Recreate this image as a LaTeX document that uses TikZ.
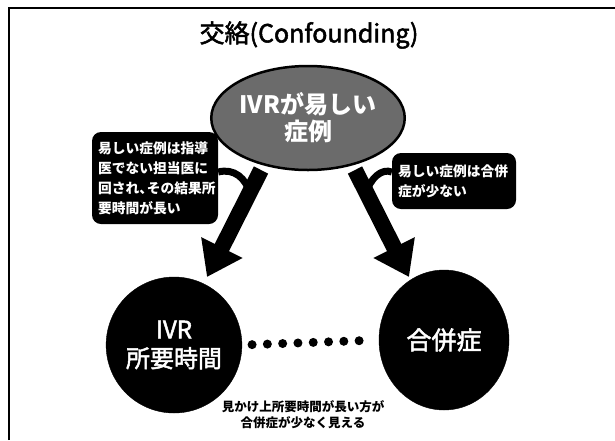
\documentclass[tikz,border=0pt]{standalone}
\usepackage{fontspec}
\newfontfamily\jp{Noto Sans CJK JP}
\newfontfamily\jpm[FakeBold=2]{Noto Sans CJK JP}
\usetikzlibrary{arrows.meta,shapes.geometric}
\begin{document}
\begin{tikzpicture}[x=1pt,y=-1pt,
  bigarrow/.style={line width=16pt,-{Triangle[length=33pt,width=44pt]},black},
  tailline/.style={line width=7pt,black},
  callout/.style={fill=black,rounded corners=9pt,text=white,
    font=\jp\bfseries\fontsize{13.75}{20}\selectfont,align=left,inner xsep=6pt},
  blob/.style={ellipse,fill=black,draw=black,inner sep=0pt,text=white,align=center},
  dotline/.style={line width=9pt,line cap=round,dash pattern=on 0pt off 15.3pt},
]
\useasboundingbox (0,0) rectangle (615,440);
\draw[line width=1.5pt] (9,440) -- (9,8) -- (615,8);

\node[font=\jpm\fontsize{25}{30}\selectfont] (title) at (309,35) {交絡(Confounding)};

\node[blob,fill=black!58,line width=2.5pt,minimum width=170pt,minimum height=104pt,
  font=\jp\bfseries\fontsize{24}{27}\selectfont] (easy) at (308,118) {IVRが易しい\\症例};

\node[blob,minimum width=118pt,minimum height=136pt,
  font=\jpm\fontsize{24}{29}\selectfont] (time) at (174,345) {IVR\\所要時間};
\node[blob,minimum width=130pt,minimum height=140pt,
  font=\jpm\fontsize{25}{29}\selectfont] (comp) at (444,340) {合併症};

\node[callout,text width=114pt,minimum height=92pt] (lbox) at (155,178)
  {易しい症例は指導\\医でない担当医に\\回され、\kern-0.45em その結果所\\要時間が長い};
\node[callout,text width=112pt,minimum height=56pt] (rbox) at (454,181)
  {易しい症例は合併\\症が少ない};

\coordinate (la) at (261,170);
\coordinate (lt) at (207,277);
\coordinate (ra) at (355,170);
\coordinate (rt) at (409,277);

\coordinate (lj) at (250,194);
\coordinate (rj) at (366,194);
\draw[tailline] (lbox.east |- 0,172) .. controls (234,168) and (246,178) .. (lj);
\draw[tailline] (rbox.west |- 0,172) .. controls (382,168) and (370,178) .. (rj);

\draw[bigarrow] (la) -- (lt);
\draw[bigarrow] (ra) -- (rt);

\draw[dotline,shorten <=10pt,shorten >=13pt] (time.east) -- (comp.west);

\node[font=\jp\bfseries\fontsize{12.5}{16}\selectfont,align=center] (note) at (303,415)
  {見かけ上所要時間が長い方が\\合併症が少なく見える};
\end{tikzpicture}
\end{document}
